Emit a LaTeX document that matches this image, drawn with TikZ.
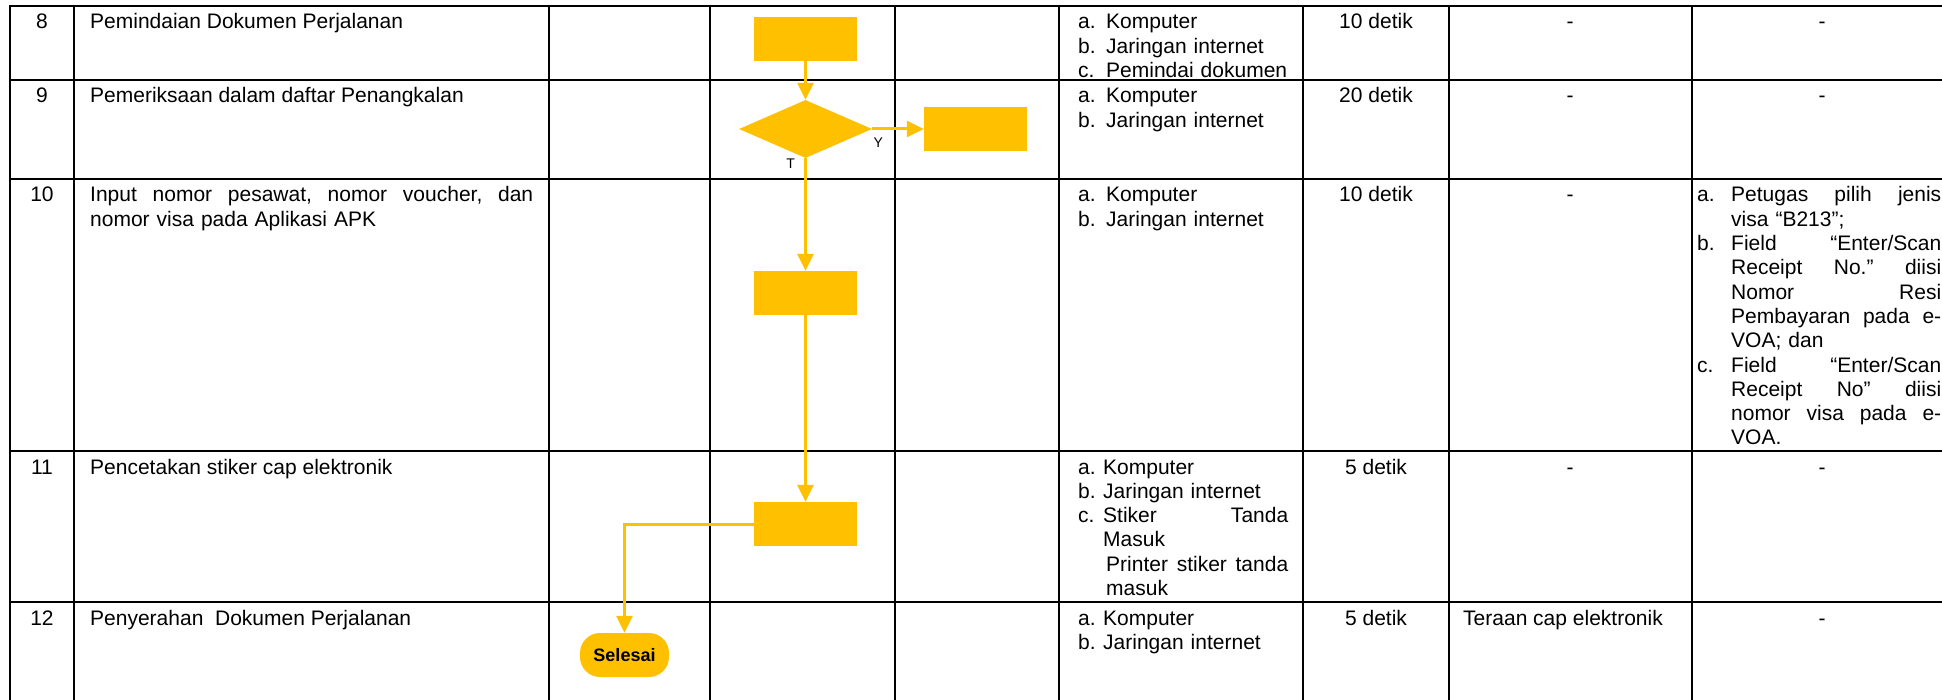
\documentclass[tikz,border=0pt]{standalone}
\usepackage{fontspec}
\setmainfont{Liberation Sans}
\usetikzlibrary{shapes.geometric,arrows.meta}
\definecolor{flowgold}{RGB}{255,192,0}
\newcommand\cellfont{\fontsize{21}{24.3}\selectfont}
\newcommand\itemrow[3]{\hangindent=#1\hangafter=1\noindent\makebox[#1][l]{#2}#3\par}

\begin{document}
\begin{tikzpicture}[x=1pt, y=-1pt,
		grid_style/.style={draw=black, line width=2.6pt, line cap=rect},
		box_style/.style={rectangle, fill=flowgold, minimum width=103pt, minimum height=44pt, inner sep=0pt},
		dec_style/.style={diamond, fill=flowgold, minimum width=133pt, minimum height=58pt, inner sep=0pt},
		end_style/.style={rectangle, rounded corners=20pt, fill=flowgold, minimum width=89pt, minimum height=44pt, inner sep=0pt, font=\fontsize{18}{20}\selectfont\bfseries},
		edge_style/.style={color=flowgold, line width=3pt, -{Triangle[width=16pt,length=17pt]}},
		num_style/.style={anchor=base, inner sep=0pt, font=\cellfont},
		txt_style/.style={anchor=base west, inner sep=0pt, font=\cellfont},
		list_style/.style={anchor=base west, inner sep=0pt, font=\cellfont, text width=#1},
		lbl_style/.style={inner sep=0pt, text=black, font=\fontsize{14}{16}\selectfont}]

		\useasboundingbox (0,0) rectangle (1942,700);

		% table grid
		\draw[grid_style] (10,6) -- (1960,6);
		\draw[grid_style] (10,80) -- (1960,80);
		\draw[grid_style] (10,179) -- (1960,179);
		\draw[grid_style] (10,451) -- (1960,451);
		\draw[grid_style] (10,602) -- (1960,602);
		\draw[grid_style] (10,6) -- (10,710);
		\draw[grid_style] (74,6) -- (74,710);
		\draw[grid_style] (549,6) -- (549,710);
		\draw[grid_style] (710,6) -- (710,710);
		\draw[grid_style] (895,6) -- (895,710);
		\draw[grid_style] (1059,6) -- (1059,710);
		\draw[grid_style] (1303,6) -- (1303,710);
		\draw[grid_style] (1449,6) -- (1449,710);
		\draw[grid_style] (1692,6) -- (1692,710);

		% nomor
		\node[num_style] (n8) at (42,29) {8};
		\node[num_style] (n9) at (42,103) {9};
		\node[num_style] (n10) at (42,202) {10};
		\node[num_style] (n11) at (42,474) {11};
		\node[num_style] (n12) at (42,625) {12};

		% kegiatan
		\node[txt_style] (s8) at (90,29) {Pemindaian Dokumen Perjalanan};
		\node[txt_style] (s9) at (90,103) {Pemeriksaan dalam daftar Penangkalan};
		\node[list_style=443pt] (s10) at (90,202) {\cellfont Input\hfill nomor\hfill pesawat,\hfill nomor\hfill voucher,\hfill dan\newline nomor visa pada Aplikasi APK\par};
		\node[txt_style] (s11) at (90,474) {Pencetakan stiker cap elektronik};
		\node[txt_style] (s12) at (90,625) {Penyerahan\ \ Dokumen Perjalanan};

		% bagan alir
		\node[box_style] (b8) at (805.5,39) {};
		\node[dec_style] (d9) at (805.5,129) {};
		\node[box_style] (b9) at (975.5,129) {};
		\node[box_style] (b10) at (805.5,293) {};
		\node[box_style] (b11) at (805.5,524) {};
		\node[end_style] (sel) at (624.5,655) {Selesai};

		\draw[edge_style]  (b8) edge (d9);
		\draw[edge_style]  (d9) edge node[lbl_style, pos=0.12, below=7pt]{Y} (b9);
		\draw[edge_style]  (d9) edge node[lbl_style, pos=0.053, left=9pt]{T} (b10);
		\draw[edge_style]  (b10) edge (b11);
		\draw[edge_style]  (b11.west) -| (sel.north);

		% kelengkapan
		\node[list_style=220pt] (k8) at (1078,29) {\cellfont\itemrow{28pt}{a.}{Komputer}\itemrow{28pt}{b.}{Jaringan internet}\itemrow{28pt}{c.}{Pemindai dokumen}};
		\node[list_style=220pt] (k9) at (1078,103) {\cellfont\itemrow{28pt}{a.}{Komputer}\itemrow{28pt}{b.}{Jaringan internet}};
		\node[list_style=220pt] (k10) at (1078,202) {\cellfont\itemrow{28pt}{a.}{Komputer}\itemrow{28pt}{b.}{Jaringan internet}};
		\node[list_style=210pt] (k11) at (1078,474) {\cellfont\itemrow{25pt}{a.}{Komputer}\itemrow{25pt}{b.}{Jaringan internet}\itemrow{25pt}{c.}{Stiker\hfill Tanda\newline Masuk\newline\hspace*{3pt}Printer\hfill stiker\hfill tanda\newline\hspace*{3pt}masuk}};
		\node[list_style=220pt] (k12) at (1078,625) {\cellfont\itemrow{25pt}{a.}{Komputer}\itemrow{25pt}{b.}{Jaringan internet}};

		% waktu
		\node[num_style] (w8) at (1376,29) {10 detik};
		\node[num_style] (w9) at (1376,103) {20 detik};
		\node[num_style] (w10) at (1376,202) {10 detik};
		\node[num_style] (w11) at (1376,474) {5 detik};
		\node[num_style] (w12) at (1376,625) {5 detik};

		% output
		\node[num_style] (o8) at (1570,29) {-};
		\node[num_style] (o9) at (1570,103) {-};
		\node[num_style] (o10) at (1570,202) {-};
		\node[num_style] (o11) at (1570,474) {-};
		\node[txt_style] (o12) at (1463,625) {Teraan cap elektronik};

		% keterangan
		\node[num_style] (c8) at (1822,29) {-};
		\node[num_style] (c9) at (1822,103) {-};
		\node[list_style=244pt] (c10) at (1697,202) {\cellfont\itemrow{34pt}{a.}{Petugas\hfill pilih\hfill jenis\newline visa “B213”;}\itemrow{34pt}{b.}{Field\hfill “Enter/Scan\newline Receipt\hfill No.”\hfill diisi\newline Nomor\hfill Resi\newline Pembayaran\hfill pada\hfill e-\newline VOA; dan}\itemrow{34pt}{c.}{Field\hfill “Enter/Scan\newline Receipt\hfill No”\hfill diisi\newline nomor\hfill visa\hfill pada\hfill e-\newline VOA.}};
		\node[num_style] (c11) at (1822,474) {-};
		\node[num_style] (c12) at (1822,625) {-};
\end{tikzpicture}
\end{document}
